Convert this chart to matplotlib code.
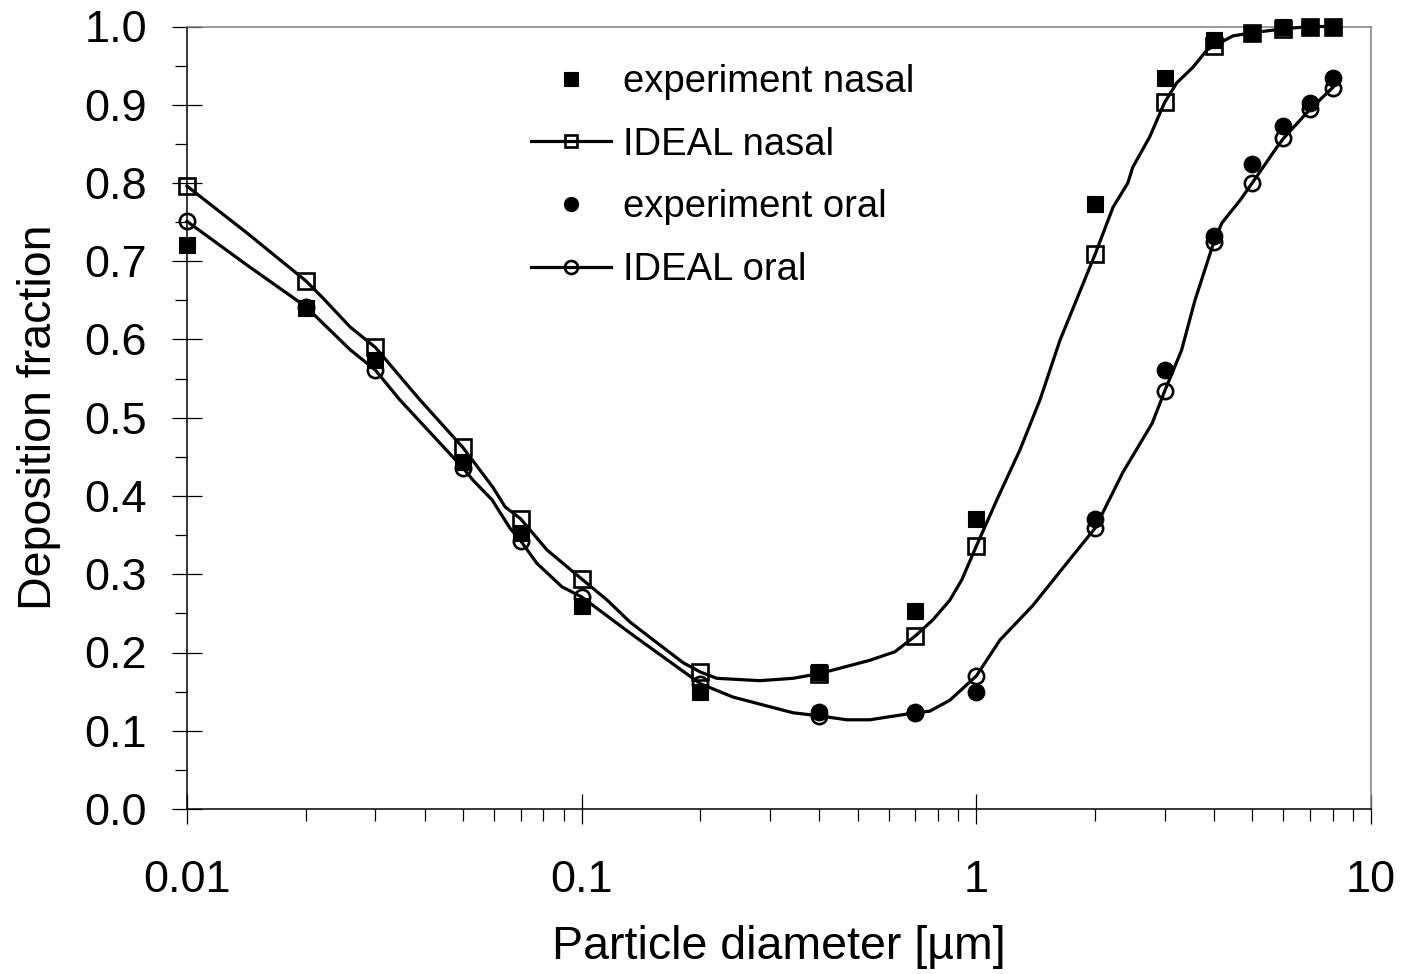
import matplotlib
matplotlib.use("Agg")
import matplotlib.pyplot as plt
from matplotlib.ticker import FixedLocator, LogLocator, NullFormatter, FixedFormatter, MultipleLocator, FormatStrFormatter

plt.rcParams['font.family'] = ['Liberation Sans', 'DejaVu Sans']

# measured deposition (markers only)
exp_nasal_d = [0.01, 0.02, 0.03, 0.05, 0.07, 0.1, 0.2, 0.4, 0.7, 1, 2, 3, 4, 5, 6, 7, 8]
exp_nasal_f = [0.721, 0.640, 0.574, 0.443, 0.353, 0.260, 0.150, 0.175, 0.253, 0.371,
               0.773, 0.934, 0.983, 0.992, 0.999, 1.0, 1.0]

exp_oral_d = [0.4, 0.7, 1, 2, 3, 4, 5, 6, 7, 8]
exp_oral_f = [0.124, 0.124, 0.150, 0.371, 0.561, 0.732, 0.824, 0.873, 0.902, 0.934]

# IDEAL model curves
ideal_nasal_d = [0.01, 0.0142, 0.02, 0.0221, 0.0259, 0.03, 0.0389, 0.05, 0.0596, 0.064,
                 0.07, 0.0817, 0.1, 0.116, 0.1325, 0.1406, 0.1807, 0.2, 0.22, 0.283,
                 0.343, 0.4, 0.537, 0.622, 0.7, 0.777, 0.857, 0.919, 1.0, 1.127,
                 1.29, 1.45, 1.629, 2.0, 2.22, 2.42, 2.49, 2.75, 3.0, 3.22,
                 3.54, 3.84, 4.0, 4.47, 5.0, 6.0, 7.0, 8.0]
ideal_nasal_f = [0.796, 0.736, 0.675, 0.653, 0.616, 0.590, 0.523, 0.462, 0.411, 0.386,
                 0.371, 0.331, 0.294, 0.267, 0.239, 0.229, 0.187, 0.175, 0.167, 0.164,
                 0.167, 0.173, 0.190, 0.201, 0.221, 0.242, 0.267, 0.293, 0.336, 0.395,
                 0.459, 0.523, 0.599, 0.709, 0.769, 0.800, 0.820, 0.859, 0.903, 0.928,
                 0.948, 0.970, 0.975, 0.988, 0.992, 0.997, 1.0, 1.0]

ideal_oral_d = [0.01, 0.0142, 0.02, 0.0259, 0.03, 0.0346, 0.05, 0.0531, 0.0593, 0.0658,
                0.07, 0.077, 0.0891, 0.1, 0.1325, 0.2, 0.242, 0.343, 0.4, 0.47,
                0.537, 0.7, 0.762, 0.857, 1.0, 1.148, 1.39, 1.70, 2.0, 2.35,
                2.79, 3.0, 3.31, 3.58, 4.0, 4.19, 4.66, 5.0, 5.78, 6.0,
                7.0, 8.0]
ideal_oral_f = [0.751, 0.695, 0.642, 0.587, 0.561, 0.523, 0.436, 0.420, 0.395, 0.359,
                0.343, 0.314, 0.284, 0.271, 0.225, 0.160, 0.143, 0.123, 0.119, 0.114,
                0.114, 0.123, 0.125, 0.139, 0.170, 0.216, 0.260, 0.315, 0.359, 0.430,
                0.493, 0.534, 0.586, 0.650, 0.725, 0.749, 0.778, 0.800, 0.846, 0.857,
                0.894, 0.922]

# sizes at which the model curve carries a marker
ideal_marker_d = [0.01, 0.02, 0.03, 0.05, 0.07, 0.1, 0.2, 0.4, 0.7, 1.0, 2.0, 3.0,
                  4.0, 5.0, 6.0, 7.0, 8.0]

x_ticks = [0.01, 0.1, 1, 10]
x_ticklabels = ['0.01', '0.1', '1', '10']

fig = plt.figure(figsize=(14.02, 9.74), dpi=100)
ax = fig.add_axes([187 / 1402, 1 - 809 / 974, (1371 - 187) / 1402, (809 - 26.5) / 974])

nasal_every = [i for i, d in enumerate(ideal_nasal_d) if d in ideal_marker_d]
oral_every = [i for i, d in enumerate(ideal_oral_d) if d in ideal_marker_d]

ax.plot(exp_nasal_d, exp_nasal_f, ls='none', marker='s', ms=11.5, mfc='k', mec='k',
        mew=0.8, label='experiment nasal', clip_on=False, zorder=3)
ax.plot(ideal_nasal_d, ideal_nasal_f, color='k', lw=2.3, marker='s', ms=11, mfc='none',
        mec='k', mew=1.9, markevery=nasal_every, label='IDEAL nasal', clip_on=False, zorder=3)
ax.plot(exp_oral_d, exp_oral_f, ls='none', marker='o', ms=12, mfc='k', mec='k',
        mew=0.8, label='experiment oral', clip_on=False, zorder=3)
ax.plot(ideal_oral_d, ideal_oral_f, color='k', lw=2.3, marker='o', ms=11, mfc='none',
        mec='k', mew=1.9, markevery=oral_every, label='IDEAL oral', clip_on=False, zorder=3)

ax.set_xscale('log')
ax.set_xlim(0.01, 10)
ax.set_ylim(0, 1)

ax.xaxis.set_major_locator(FixedLocator(x_ticks))
ax.xaxis.set_major_formatter(FixedFormatter(x_ticklabels))
ax.xaxis.set_minor_locator(LogLocator(base=10, subs=range(2, 10)))
ax.xaxis.set_minor_formatter(NullFormatter())
ax.yaxis.set_major_locator(MultipleLocator(0.1))
ax.yaxis.set_major_formatter(FormatStrFormatter('%.1f'))
ax.yaxis.set_minor_locator(MultipleLocator(0.05))

ax.tick_params(which='major', direction='inout', length=21.5, width=0.9, labelsize=32.5, colors='k')
ax.tick_params(axis='y', which='major', pad=18)
ax.tick_params(axis='x', which='major', pad=26)
ax.tick_params(which='minor', direction='out', length=8.5, width=0.9)

for side in ['left', 'bottom']:
    ax.spines[side].set_color('k')
    ax.spines[side].set_linewidth(1.1)
for side in ['top', 'right']:
    ax.spines[side].set_color('#808080')
    ax.spines[side].set_linewidth(1.1)

ax.set_xlabel('Particle diameter [µm]', fontsize=33.5, labelpad=17)
ax.set_ylabel('Deposition fraction', fontsize=33.5, labelpad=17)

ax.legend(loc='upper left', bbox_to_anchor=(531 / 1402, 1 - 64 / 974),
          bbox_transform=fig.transFigure, frameon=False, fontsize=27.5,
          handlelength=2.1, handletextpad=0.3, labelspacing=0.7,
          borderpad=0, borderaxespad=0, markerscale=0.85)

fig.savefig('out.png', dpi=100)
